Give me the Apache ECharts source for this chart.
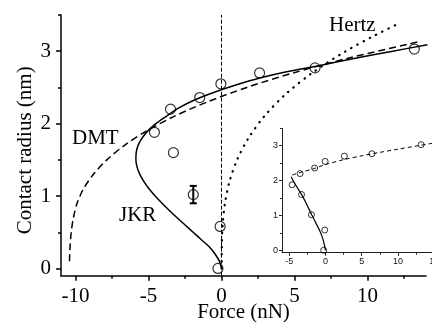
<!DOCTYPE html>
<html>
<head>
<meta charset="utf-8">
<script src="https://cdn.jsdelivr.net/npm/echarts@6/dist/echarts.min.js"></script>
<style>
html,body{margin:0;padding:0;background:#fff;}
#chart{width:432px;height:322px;}
</style>
</head>
<body>
<div id="chart"></div>
<script>
// Measured data points (force nN, contact radius nm)
const pointForce  = [-4.6, -3.5, -3.3, -1.5, -0.05, 2.6, 6.4, 13.2, -1.94, -0.1, -0.25];
const pointRadius = [1.88, 2.2, 1.6, 2.36, 2.55, 2.7, 2.77, 3.03, 1.02, 0.58, 0.0];
const pointError  = [0, 0, 0, 0, 0, 0, 0, 0, 0.12, 0, 0];

// JKR curve (solid)
const jkrForce  = [0, -0.15, -0.45, -0.85, -1.4, -1.95, -2.5, -3.05, -3.58, -4.08, -4.55, -4.97, -5.32, -5.6, -5.79, -5.87, -5.85, -5.72, -5.45, -5.05, -4.5, -3.79, -2.9, -1.82, -0.55, 0.92, 2.61, 4.53, 6.67, 9.07, 11.72, 14.1];
const jkrRadius = [0, 0.1, 0.2, 0.3, 0.4, 0.5, 0.6, 0.7, 0.8, 0.9, 1.0, 1.1, 1.2, 1.3, 1.4, 1.5, 1.6, 1.7, 1.8, 1.9, 2.0, 2.1, 2.22, 2.33, 2.43, 2.53, 2.63, 2.72, 2.8, 2.9, 3.0, 3.09];

// DMT curve (dashed)
const dmtForce  = [-10.42, -10.38, -10.3, -10.15, -9.9, -9.46, -8.78, -7.86, -6.65, -5.13, -3.25, -0.98, 1.73, 4.91, 8.59, 12.82, 13.7];
const dmtRadius = [0.1, 0.3, 0.5, 0.7, 0.9, 1.1, 1.3, 1.5, 1.7, 1.9, 2.1, 2.3, 2.5, 2.7, 2.9, 3.1, 3.14];

// Hertz curve (dotted)
const hertzForce  = [0, 0.01, 0.07, 0.23, 0.54, 1.06, 1.84, 2.92, 4.35, 6.2, 8.5, 10.32, 12.2];
const hertzRadius = [0, 0.3, 0.6, 0.9, 1.2, 1.5, 1.8, 2.1, 2.4, 2.7, 3.0, 3.2, 3.39];

// Inset curves
const insetDashForce  = [-4.6, -3.5, -1.5, 0, 2.5, 5, 7.5, 10, 12.5, 15];
const insetDashRadius = [2.16, 2.23, 2.35, 2.46, 2.6, 2.71, 2.81, 2.9, 2.99, 3.08];
const insetSolidForce  = [-4.74, -4.2, -3.26, -2.6, -1.88, -1.25, -0.73, -0.35, -0.15, -0.04, 0];
const insetSolidRadius = [2.11, 1.9, 1.59, 1.32, 1.01, 0.75, 0.53, 0.32, 0.15, 0.05, 0];

// Tick labels
const mainXTicks = [-10, -5, 0, 5, 10];
const mainXMinor = [-7.5, -2.5, 2.5, 7.5, 12.5];
const mainYTicks = [0, 1, 2, 3];
const mainYMinor = [0.5, 1.5, 2.5, 3.5];
const insetXTicks = [-5, 0, 5, 10, 15];
const insetXMinor = [-2.5, 2.5, 7.5, 12.5];
const insetYTicks = [0, 1, 2, 3];
const insetYMinor = [0.5, 1.5, 2.5, 3.5];

const zip = (a, b) => a.map((v, i) => [v, b[i]]);
const serif = '"Liberation Serif", "Times New Roman", serif';
const sans = '"Liberation Sans", Arial, sans-serif';

const chart = echarts.init(document.getElementById('chart'), null, {renderer: 'canvas'});

function mainAxis(extra) {
  return Object.assign({
    type: 'value',
    gridIndex: 0,
    splitLine: {show: false},
    axisLine: {show: true, onZero: false, lineStyle: {color: '#000', width: 1.5}},
  }, extra);
}
function insetAxis(extra) {
  return Object.assign({
    type: 'value',
    gridIndex: 1,
    splitLine: {show: false},
    axisLine: {show: true, onZero: false, lineStyle: {color: '#222', width: 1}},
  }, extra);
}

const option = {
  animation: false,
  backgroundColor: '#fff',
  grid: [
    {left: 61, top: 15, right: 6, bottom: 46.3, containLabel: false, outerBoundsMode: 'none'},
    {left: 282, top: 128.3, width: 152.2, height: 124.4, containLabel: false, outerBoundsMode: 'none'}
  ],
  xAxis: [
    mainAxis({
      min: -11, max: 14, position: 'bottom',
      axisTick: {show: true, inside: false, length: 5, customValues: mainXTicks, lineStyle: {color: '#000', width: 1.5}},
      axisLabel: {show: true, customValues: mainXTicks, margin: 10, color: '#000', fontSize: 21, fontFamily: serif},
      name: 'Force (nN)', nameLocation: 'middle', nameGap: 26, nameMoveOverlap: false,
      nameTextStyle: {color: '#000', fontSize: 21, fontFamily: serif}
    }),
    mainAxis({
      min: -11, max: 14, position: 'bottom',
      axisLine: {show: false, onZero: false},
      axisTick: {show: true, inside: false, length: 3, customValues: mainXMinor, lineStyle: {color: '#000', width: 1.5}},
      axisLabel: {show: false}
    }),
    insetAxis({
      min: -6, max: 15, position: 'bottom',
      axisTick: {show: true, inside: false, length: 3, customValues: insetXTicks, lineStyle: {color: '#222', width: 1}},
      axisLabel: {show: true, customValues: insetXTicks, margin: 4, color: '#111', fontSize: 9, fontFamily: sans}
    }),
    insetAxis({
      min: -6, max: 15, position: 'bottom',
      axisLine: {show: false, onZero: false},
      axisTick: {show: true, inside: false, length: 2, customValues: insetXMinor, lineStyle: {color: '#222', width: 1}},
      axisLabel: {show: false}
    })
  ],
  yAxis: [
    mainAxis({
      min: -0.1, max: 3.5, position: 'left',
      axisTick: {show: true, inside: false, length: 5, customValues: mainYTicks, lineStyle: {color: '#000', width: 1.5}},
      axisLabel: {show: true, customValues: mainYTicks, margin: 10, color: '#000', fontSize: 21, fontFamily: serif},
      name: 'Contact radius (nm)', nameLocation: 'middle', nameGap: 25, nameRotate: 90, nameMoveOverlap: false,
      nameTextStyle: {color: '#000', fontSize: 21, fontFamily: serif, padding: [0, 10, 0, 0]}
    }),
    mainAxis({
      min: -0.1, max: 3.5, position: 'left',
      axisLine: {show: false, onZero: false},
      axisTick: {show: true, inside: false, length: 3, customValues: mainYMinor, lineStyle: {color: '#000', width: 1.5}},
      axisLabel: {show: false}
    }),
    insetAxis({
      min: -0.07, max: 3.5, position: 'left',
      axisTick: {show: true, inside: false, length: 3, customValues: insetYTicks, lineStyle: {color: '#222', width: 1}},
      axisLabel: {show: true, customValues: insetYTicks, margin: 4, color: '#111', fontSize: 9, fontFamily: sans}
    }),
    insetAxis({
      min: -0.07, max: 3.5, position: 'left',
      axisLine: {show: false, onZero: false},
      axisTick: {show: true, inside: false, length: 2, customValues: insetYMinor, lineStyle: {color: '#222', width: 1}},
      axisLabel: {show: false}
    })
  ],
  series: [
    {
      name: 'DMT', type: 'line', xAxisIndex: 0, yAxisIndex: 0,
      data: zip(dmtForce, dmtRadius), symbol: 'none', smooth: 0.3,
      lineStyle: {color: '#000', width: 1.5, type: [7, 4]},
      markLine: {
        silent: true, symbol: ['none', 'none'], label: {show: false},
        lineStyle: {color: '#000', width: 1, type: [4, 2]},
        data: [{xAxis: 0}]
      },
      z: 3
    },
    {
      name: 'JKR', type: 'line', xAxisIndex: 0, yAxisIndex: 0,
      data: zip(jkrForce, jkrRadius), symbol: 'none', smooth: 0.3,
      lineStyle: {color: '#000', width: 1.5, type: 'solid'}, z: 3
    },
    {
      name: 'Hertz', type: 'line', xAxisIndex: 0, yAxisIndex: 0,
      data: zip(hertzForce, hertzRadius), symbol: 'none', smooth: 0.3,
      lineStyle: {color: '#000', width: 2.2, type: [0.5, 6.5], cap: 'round'}, z: 3
    },
    {
      name: 'data', type: 'scatter', xAxisIndex: 0, yAxisIndex: 0,
      data: zip(pointForce, pointRadius), symbol: 'circle', symbolSize: 10,
      itemStyle: {color: 'rgba(0,0,0,0)', borderColor: '#000', borderWidth: 1.2}, z: 4
    },
    {
      name: 'error', type: 'custom', xAxisIndex: 0, yAxisIndex: 0,
      data: pointForce.map((f, i) => [f, pointRadius[i], pointError[i]]).filter(d => d[2] > 0),
      renderItem: function (params, api) {
        const x = api.value(0), y = api.value(1), e = api.value(2);
        const t = api.coord([x, y + e]);
        const b = api.coord([x, y - e]);
        const w = 3.5;
        const st = {stroke: '#000', lineWidth: 2};
        return {
          type: 'group',
          children: [
            {type: 'line', shape: {x1: t[0], y1: t[1], x2: b[0], y2: b[1]}, style: st},
            {type: 'line', shape: {x1: t[0] - w, y1: t[1], x2: t[0] + w, y2: t[1]}, style: st},
            {type: 'line', shape: {x1: b[0] - w, y1: b[1], x2: b[0] + w, y2: b[1]}, style: st}
          ]
        };
      },
      z: 4
    },
    {
      name: 'insetDash', type: 'line', xAxisIndex: 2, yAxisIndex: 2,
      data: zip(insetDashForce, insetDashRadius), symbol: 'none', smooth: 0.3,
      lineStyle: {color: '#000', width: 1, type: [4, 3]}, z: 3
    },
    {
      name: 'insetSolid', type: 'line', xAxisIndex: 2, yAxisIndex: 2,
      data: zip(insetSolidForce, insetSolidRadius), symbol: 'none', smooth: 0.3,
      lineStyle: {color: '#000', width: 1.2, type: 'solid'}, z: 3
    },
    {
      name: 'insetData', type: 'scatter', xAxisIndex: 2, yAxisIndex: 2,
      data: zip(pointForce, pointRadius), symbol: 'circle', symbolSize: 6,
      itemStyle: {color: 'rgba(0,0,0,0)', borderColor: '#000', borderWidth: 1}, z: 4
    }
  ],
  graphic: [
    {type: 'text', left: 72, top: 128, style: {text: 'DMT', font: '21px ' + serif, fill: '#000'}},
    {type: 'text', left: 119, top: 205, style: {text: 'JKR', font: '21px ' + serif, fill: '#000'}},
    {type: 'text', left: 329, top: 15, style: {text: 'Hertz', font: '21px ' + serif, fill: '#000'}}
  ]
};
chart.setOption(option);
</script>
</body>
</html>
